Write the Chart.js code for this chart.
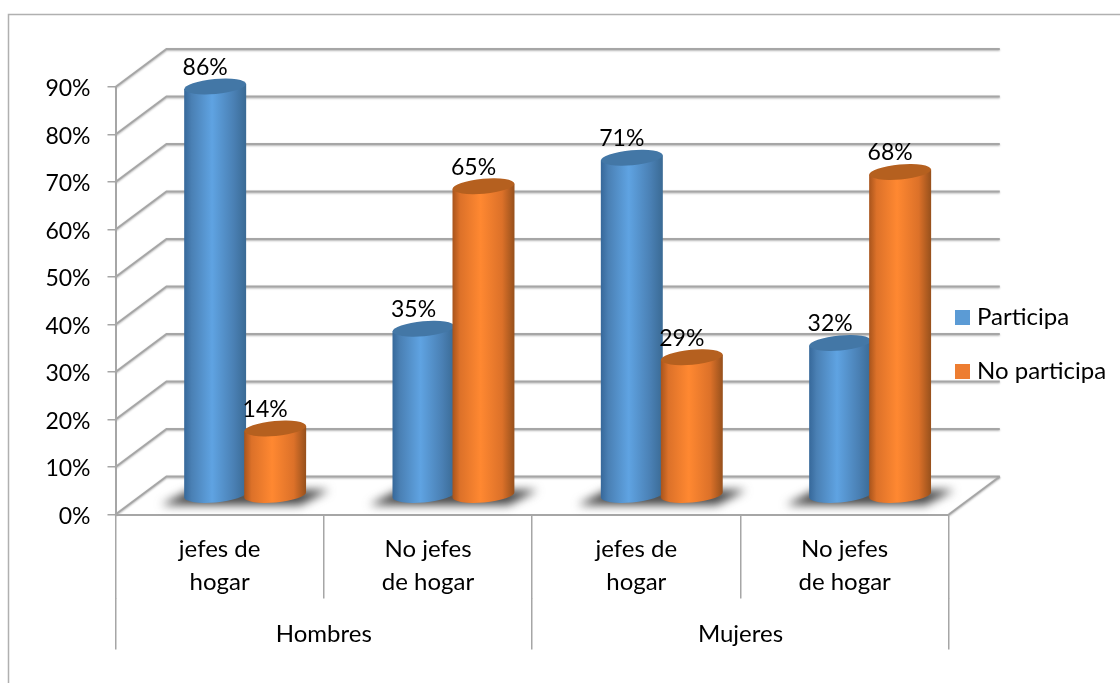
<!DOCTYPE html>
<html>
<head>
<meta charset="utf-8">
<title>Participa</title>
<script src="https://cdn.jsdelivr.net/npm/chart.js@4"></script>
<style>
  html, body { margin: 0; padding: 0; background: #fff; }
  #wrap { width: 1120px; height: 683px; }
</style>
</head>
<body>
<div id="wrap"><canvas id="grafico"></canvas></div>
<script>
var grupos = ['Hombres', 'Mujeres'];
var categorias = [['jefes de', 'hogar'], ['No jefes', 'de hogar'], ['jefes de', 'hogar'], ['No jefes', 'de hogar']];
var participa = [86, 35, 71, 32];
var noParticipa = [14, 65, 29, 68];

var gris = '#a6a6a6';
var fuente = 'Lato, Carlito, sans-serif';
var fondoX = 51, fondoY = 38; // profundidad de la caja 3D

function puntos(valores) {
  return valores.map(function(v, i) { return { x: i + 0.5, y: v }; });
}

// marco, paredes y piso
var paredes = {
  id: 'paredes',
  beforeDraw: function(chart) {
    var ctx = chart.ctx, area = chart.chartArea, y = chart.scales.y;
    ctx.save();
    ctx.strokeStyle = '#b0b0b0';
    ctx.lineWidth = 1.5;
    ctx.beginPath();
    ctx.moveTo(8.5, 683);
    ctx.lineTo(8.5, 14.5);
    ctx.lineTo(1120, 14.5);
    ctx.stroke();

    ctx.strokeStyle = gris;
    ctx.lineWidth = 2;
    ctx.shadowColor = 'rgba(0,0,0,0.3)';
    ctx.shadowBlur = 2;
    ctx.shadowOffsetY = 1;
    y.ticks.forEach(function(t) {
      var py = y.getPixelForValue(t.value);
      ctx.beginPath();
      ctx.moveTo(area.left, py);
      ctx.lineTo(area.left + fondoX, py - fondoY);
      ctx.lineTo(area.right + fondoX, py - fondoY);
      ctx.stroke();
    });
    ctx.beginPath();
    ctx.moveTo(area.right, area.bottom);
    ctx.lineTo(area.right + fondoX, area.bottom - fondoY);
    ctx.stroke();
    ctx.restore();
  },
  afterLayout: function(chart) {
    chart.legend.left = 930;
    chart.legend.top = 275.5;
  }
};

function sombra(ctx, x, base) {
  ctx.save();
  ctx.filter = 'blur(5px)';
  ctx.fillStyle = '#454545';
  ctx.beginPath();
  ctx.moveTo(x - 84, base + 10);
  ctx.lineTo(x + 55, base + 10);
  ctx.lineTo(x + 84, base - 5);
  ctx.lineTo(x - 55, base - 5);
  ctx.closePath();
  ctx.fill();
  ctx.restore();
}

function cilindro(ctx, bar, tonos) {
  var rx = bar.width / 2 + 1, ry = 7.5, giro = -5 * Math.PI / 180;
  var izq = bar.x - rx, der = bar.x + rx, caida = 2.6;
  var g = ctx.createLinearGradient(izq, 0, der, 0);
  g.addColorStop(0, tonos[0]);
  g.addColorStop(0.12, tonos[1]);
  g.addColorStop(0.45, tonos[2]);
  g.addColorStop(0.8, tonos[1]);
  g.addColorStop(1, tonos[3]);
  ctx.save();
  ctx.fillStyle = g;
  ctx.beginPath();
  ctx.moveTo(izq, bar.y + caida);
  ctx.lineTo(izq, bar.base + caida);
  ctx.ellipse(bar.x, bar.base, rx, ry, giro, Math.PI, 0, true);
  ctx.lineTo(der, bar.y - caida);
  ctx.closePath();
  ctx.fill();
  ctx.fillStyle = tonos[4];
  ctx.beginPath();
  ctx.ellipse(bar.x, bar.y, rx, ry, giro, 0, 2 * Math.PI);
  ctx.fill();
  ctx.restore();
}

var tonosAzul = ['#36689a', '#4a80b4', '#5fa3e2', '#3a6a94', '#4377a6'];
var tonosNaranja = ['#a8541c', '#dc7129', '#ff8831', '#96501c', '#b5601f'];

// las barras planas se cambian por cilindros, mas las etiquetas de valor
var cilindros = {
  id: 'cilindros',
  beforeDatasetDraw: function() {
    return false;
  },
  afterDatasetsDraw: function(chart) {
    var ctx = chart.ctx;
    var azul = chart.getDatasetMeta(0).data, naranja = chart.getDatasetMeta(1).data;
    azul.forEach(function(bar, i) {
      sombra(ctx, naranja[i].x - bar.width / 2, bar.base);
    });
    azul.forEach(function(bar, i) {
      cilindro(ctx, bar, tonosAzul);
      cilindro(ctx, naranja[i], tonosNaranja);
    });
    ctx.save();
    ctx.fillStyle = '#000';
    ctx.font = '23px ' + fuente;
    ctx.textAlign = 'center';
    ctx.textBaseline = 'middle';
    [[azul, participa], [naranja, noParticipa]].forEach(function(par) {
      par[0].forEach(function(bar, i) {
        ctx.fillText(par[1][i] + '%', bar.x - 10, bar.y - 19);
      });
    });
    ctx.restore();
  }
};

new Chart(document.getElementById('grafico'), {
  type: 'bar',
  data: {
    datasets: [
      { label: 'Participa', data: puntos(participa), backgroundColor: '#5b9bd5', xAxisID: 'xb', yAxisID: 'yb', clip: false, barThickness: 60 },
      { label: 'No participa', data: puntos(noParticipa), backgroundColor: '#ed7d31', xAxisID: 'xb', yAxisID: 'yb', clip: false, barThickness: 60 }
    ]
  },
  plugins: [paredes, cilindros],
  options: {
    responsive: true,
    maintainAspectRatio: false,
    animation: false,
    events: [],
    layout: { padding: { top: 87, bottom: 33.5, left: 0, right: -15 } },
    plugins: {
      title: { display: false },
      tooltip: { enabled: false },
      legend: {
        position: 'right',
        align: 'start',
        labels: {
          usePointStyle: true,
          pointStyle: 'rect',
          boxWidth: 5,
          boxHeight: 15,
          padding: 30,
          color: '#000',
          font: { family: fuente, size: 24 }
        }
      }
    },
    scales: {
      x: {
        type: 'category',
        position: 'bottom',
        weight: 1,
        labels: categorias,
        offset: true,
        afterFit: function(scale) { scale.height = 83; },
        grid: { offset: true, drawOnChartArea: false, tickLength: 84, color: gris, lineWidth: 1.5 },
        border: { color: gris, width: 2 },
        ticks: { color: '#000', padding: -65.5, maxRotation: 0, autoSkip: false, font: { family: fuente, size: 24, lineHeight: 1.375 } }
      },
      x2: {
        type: 'category',
        position: 'bottom',
        weight: 2,
        labels: grupos,
        offset: true,
        afterFit: function(scale) { scale.height = 52; },
        grid: { offset: true, drawOnChartArea: false, tickLength: 52, color: gris, lineWidth: 1.5 },
        border: { display: false },
        ticks: { color: '#000', padding: -31.5, maxRotation: 0, autoSkip: false, font: { family: fuente, size: 24, lineHeight: 1.375 } }
      },
      y: {
        position: 'left',
        min: 0,
        max: 90,
        afterFit: function(scale) { scale.width = 115.5; },
        grid: { drawOnChartArea: false, tickLength: 8, color: gris, lineWidth: 1.5 },
        border: { color: gris, width: 2 },
        ticks: {
          stepSize: 10,
          padding: 17,
          labelOffset: 2,
          color: '#000',
          font: { family: fuente, size: 23 },
          callback: function(v) { return v + '%'; }
        }
      },
      // plano de las barras, desplazado a media profundidad
      xb: { type: 'linear', display: false, position: 'bottom', offset: false, min: -0.1225, max: 3.8775 },
      yb: { type: 'linear', display: false, position: 'left', min: -4.105, max: 85.895 }
    }
  }
});
</script>
</body>
</html>
